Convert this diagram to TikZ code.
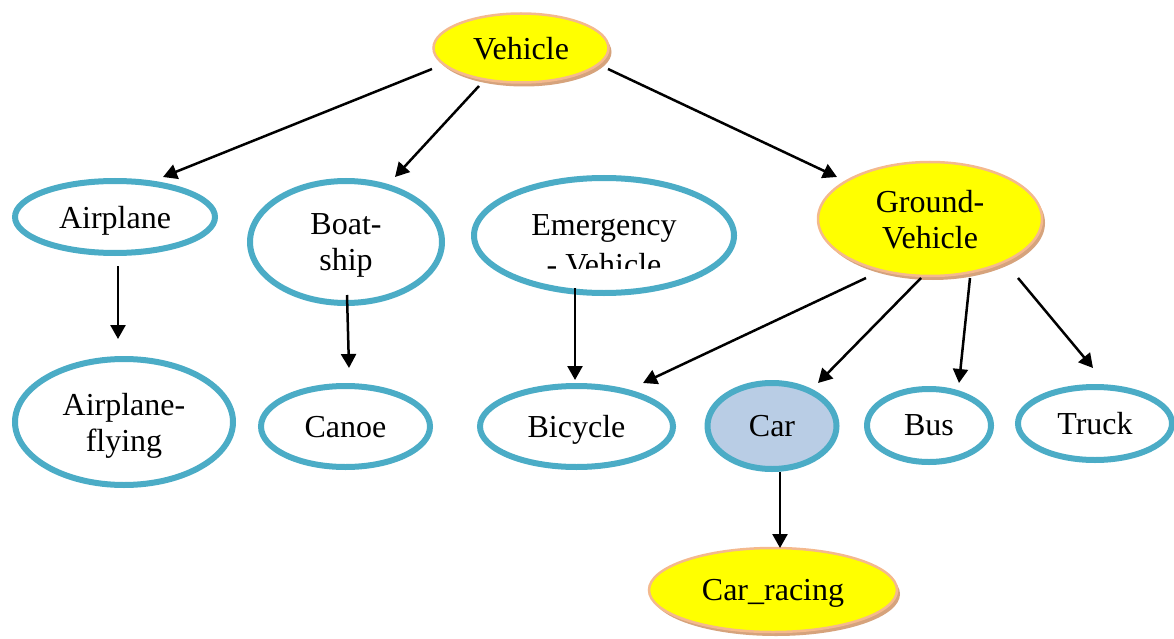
\documentclass[tikz,border=0pt]{standalone}
\usepackage{fontspec}
\setmainfont{Liberation Serif}
\usetikzlibrary{arrows.meta,calc,shadows,shapes.geometric}

\definecolor{ringblue}{HTML}{4BACC6}
\definecolor{carfill}{HTML}{B9CDE5}
\definecolor{peach}{HTML}{F4B98E}
\definecolor{tan}{HTML}{D6A37C}
\definecolor{goldfill}{HTML}{FFFF00}

\tikzset{
  every node/.style={font=\fontsize{32pt}{36pt}\selectfont, align=center},
  ring/.style={ellipse, draw=ringblue, line width=6pt, inner sep=0pt, fill=white, text depth=0pt},
  goldnode/.style={ellipse, draw=peach, line width=2.5pt, fill=goldfill, inner sep=0pt, text depth=0pt,
    drop shadow={shadow xshift=3pt, shadow yshift=-4pt, fill=tan, opacity=1}},
  arr/.style={line width=2.5pt, -{Triangle[length=14pt,width=15pt]}},
}

\begin{document}
\begin{tikzpicture}[x=1pt, y=-1pt]
  \useasboundingbox (0,0) rectangle (1174,639);

  % root and ground branch
  \node[goldnode, minimum width=175pt, minimum height=69pt] (veh) at (521,48) {Vehicle};
  \node[goldnode, minimum width=224pt, minimum height=114pt] (gv) at (930,219) {Ground-\\Vehicle};

  % second row
  \node[ring, minimum width=200pt, minimum height=72pt] (air) at (115,217) {Airplane};
  \node[ring, minimum width=192pt, minimum height=122pt] (boat) at (346,242) {Boat-\\ship};
  \node[ring, minimum width=260pt, minimum height=115pt] (emg) at (604,235.5) {};
  \begin{scope}
    \clip (471,175) rectangle (737,268);
    \node[font=\fontsize{32pt}{40pt}\selectfont] (emgtext) at (604,245) {Emergency\\- Vehicle};
  \end{scope}

  % third row
  \node[ring, minimum width=218pt, minimum height=126pt] (fly) at (124,422) {Airplane-\\flying};
  \node[ring, minimum width=169pt, minimum height=81pt] (canoe) at (345.5,426.5) {Canoe};
  \node[ring, minimum width=193pt, minimum height=81pt] (bic) at (576.5,426.5) {Bicycle};
  \node[ring, fill=carfill, minimum width=129pt, minimum height=86pt] (car) at (772,426) {Car};
  \node[ring, minimum width=124pt, minimum height=73pt] (bus) at (929,425.5) {Bus};
  \node[ring, minimum width=154pt, minimum height=73pt] (truck) at (1095,423.5) {Truck};

  % leaf
  \node[goldnode, minimum width=248pt, minimum height=84pt] (race) at (773,590) {Car\_racing};

  % connectors
  \draw[arr] ($(veh)+(-89,21)$) -- ($(air)+(48,-40)$);
  \draw[arr] ($(veh)+(-42,38)$) -- ($(boat)+(49,-65)$);
  \draw[arr] ($(veh)+(87,21)$) -- ($(gv)+(-93,-42)$);
  \draw[arr] ($(air)+(3,49)$) -- ($(fly)+(-6,-83)$);
  \draw[arr] ($(boat)+(1,53)$) -- ($(canoe)+(3.5,-58.5)$);
  \draw[arr] ($(emg)+(-29,52.5)$) -- ($(bic)+(-1.5,-46.5)$);
  \draw[arr] ($(gv)+(-64,59)$) -- ($(bic)+(66.5,-43.5)$);
  \draw[arr] ($(gv)+(-9,59)$) -- ($(car)+(46,-43)$);
  \draw[arr] ($(gv)+(40,59)$) -- ($(bus)+(30,-42.5)$);
  \draw[arr] ($(gv)+(88,59)$) -- ($(truck)+(-2,-55.5)$);
  \draw[arr] ($(car)+(8,46)$) -- ($(race)+(7,-42)$);
\end{tikzpicture}
\end{document}
